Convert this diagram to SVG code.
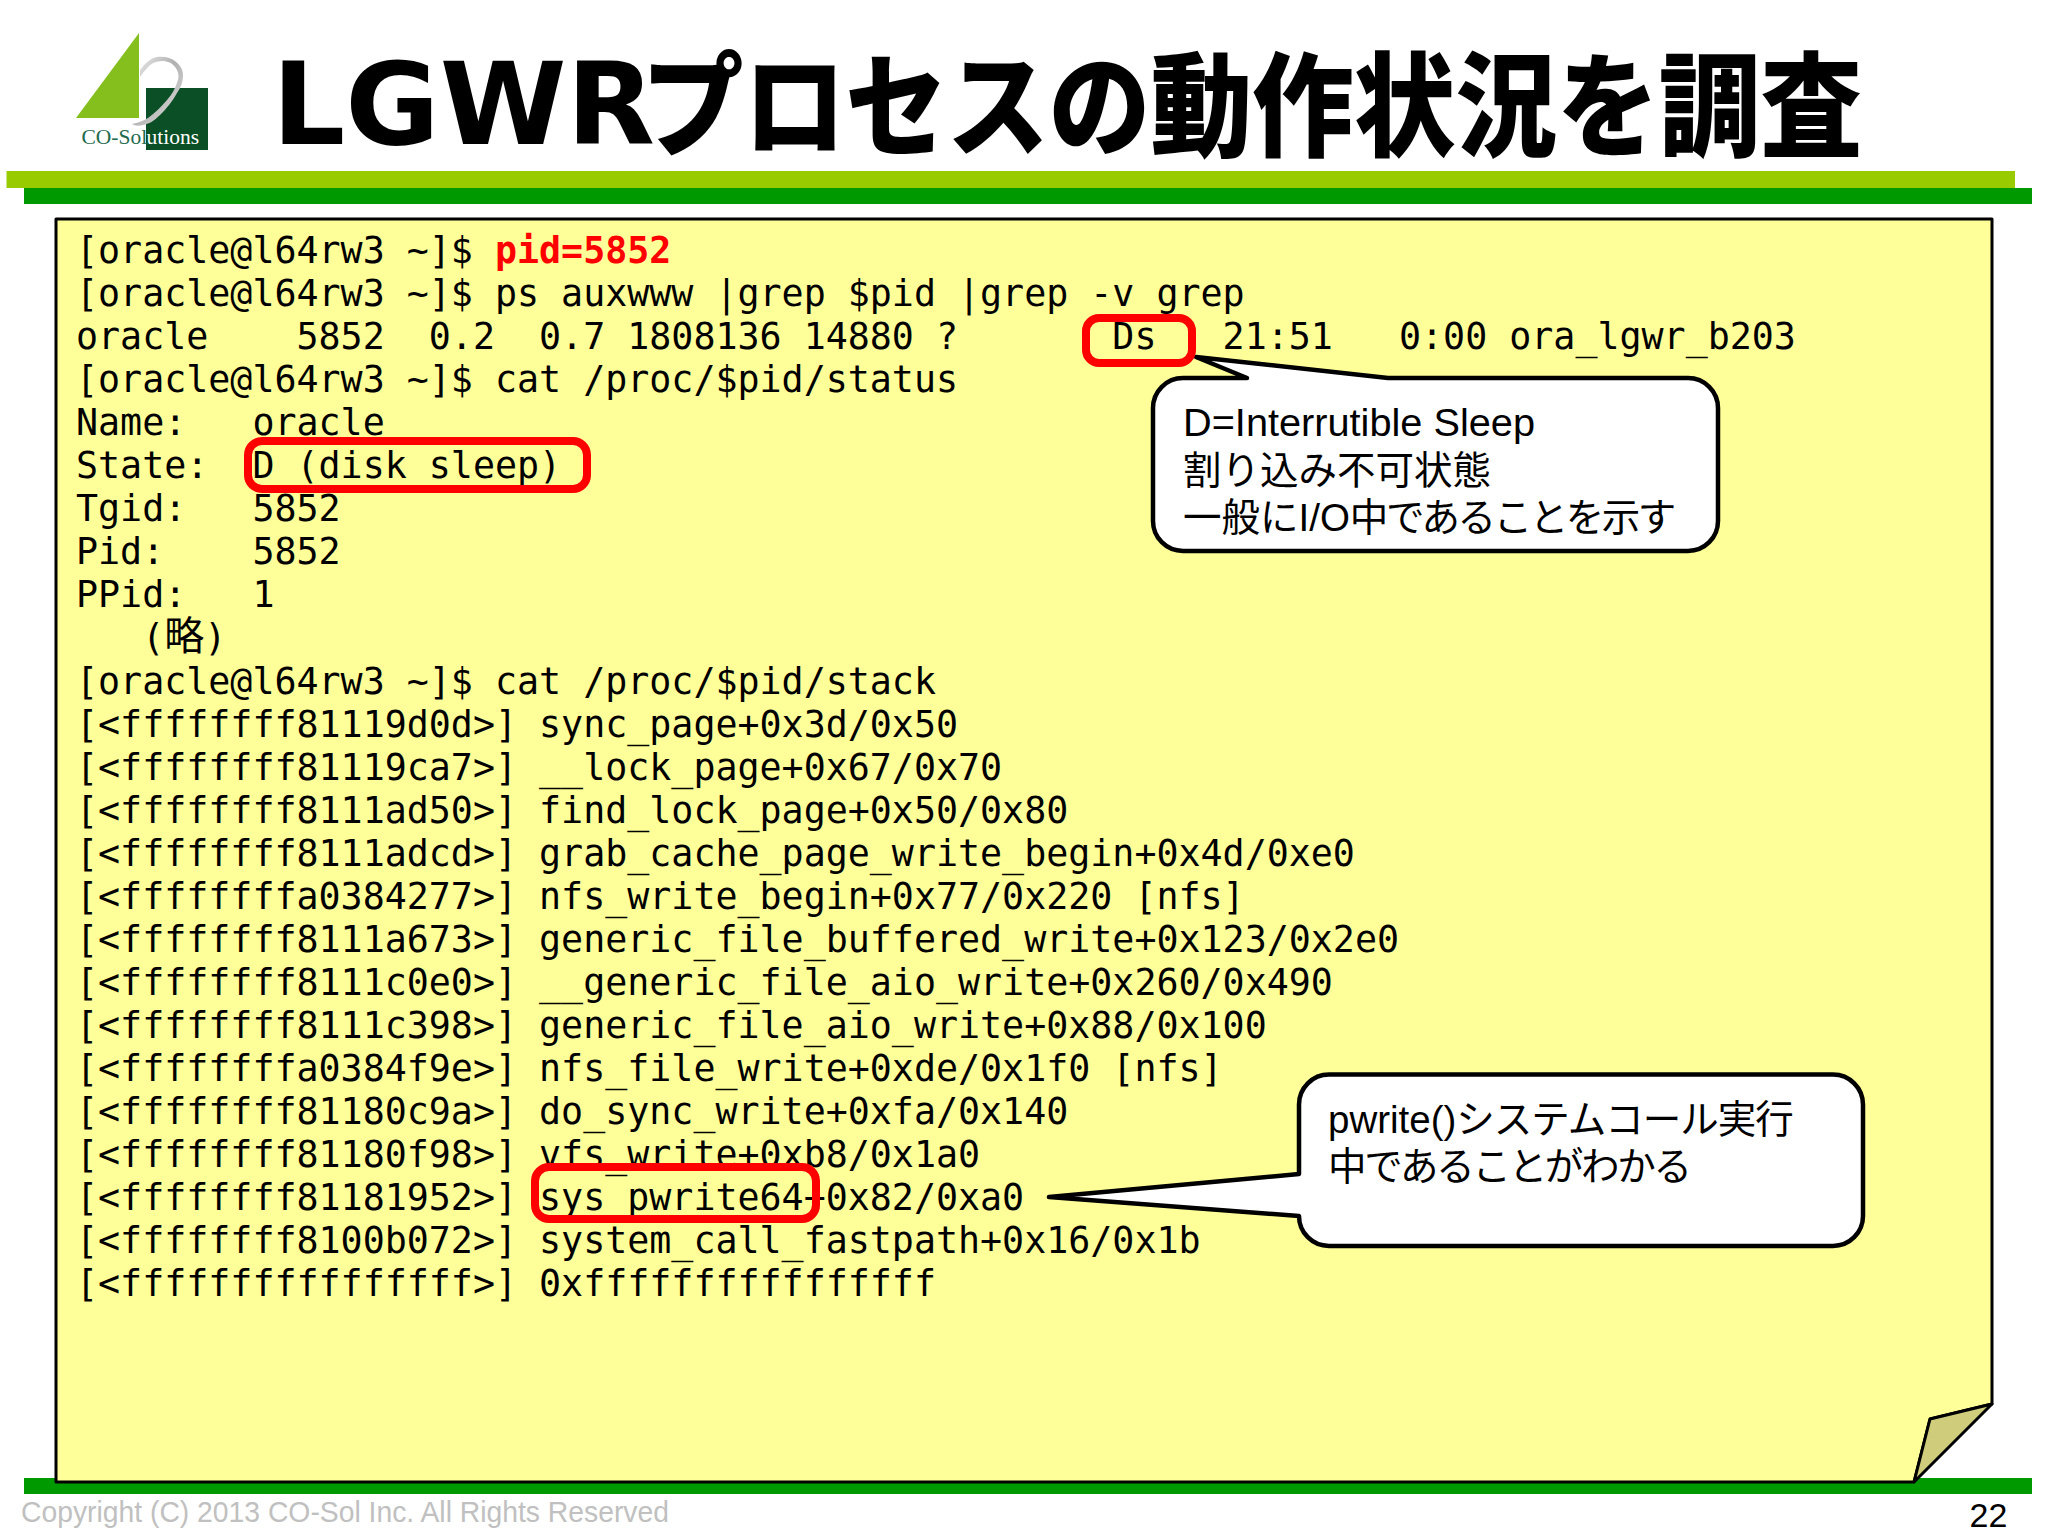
<svg xmlns="http://www.w3.org/2000/svg" width="2048" height="1536" viewBox="0 0 2048 1536">
<style>
.t{font-family:"DejaVu Sans Mono","Noto Sans CJK JP",monospace;font-size:36.64px;fill:#000;white-space:pre}
.c{font-family:"Liberation Sans","Noto Sans CJK JP",sans-serif;font-size:38.5px;fill:#000}
.r{fill:none;stroke:#f00;stroke-width:8}
.b{fill:#fff;stroke:#000;stroke-width:4.5;stroke-linejoin:round}
</style>
<defs>
<linearGradient id="ring" x1="0" y1="0" x2="1" y2="1"><stop offset="0" stop-color="#f4f4f4"/><stop offset=".45" stop-color="#b0b0b0"/><stop offset=".8" stop-color="#d0d0d0"/><stop offset="1" stop-color="#8a8a8a"/></linearGradient>
</defs>
<rect width="2048" height="1536" fill="#fff"/>
<g id="logo">
<path d="M139 33V118H76Z" fill="#84bf1e"/>
<rect x="146" y="88" width="62" height="62" fill="#0a4f25"/>
<path d="M140 70C146 62 151 58 157 57C165 56 171 58 175 61C181 66 183 70 183 75C183 82 181 87 177 93C172 102 167 108 160 115C154 121 149 124 143 125C139 126 135 126 132 124C138 123 143 121 148 118C155 113 161 107 167 100C172 94 175 89 177 83C179 78 179 74 177 70C175 66 172 63 168 62C163 60 158 61 153 63C148 66 144 71 140 77Z" fill="url(#ring)"/>
<text x="81.5" y="144" font-family="'Liberation Serif',serif" font-size="21.5" fill="#1f6b4e">CO-Sol</text>
<text x="146.5" y="144" font-family="'Liberation Serif',serif" font-size="21.5" fill="#fff">utions</text>
</g>
<g id="title">
<text x="272" y="144" font-family="'DejaVu Sans',sans-serif" font-weight="700" font-size="114.5" textLength="383" lengthAdjust="spacingAndGlyphs" fill="#000">LGWR</text>
<text transform="translate(642 147) scale(.9 1)" font-family="'Noto Sans CJK JP',sans-serif" font-weight="900" font-size="113" fill="#000">プロセスの動作状況を調査</text>
</g>
<g id="bars">
<rect x="6.5" y="171" width="2008.5" height="17" fill="#99cc00"/>
<rect x="24" y="188" width="2008" height="16" fill="#009900"/>
<rect x="24" y="1478" width="2008" height="16" fill="#009900"/>
</g>
<g id="note">
<path d="M56 219H1992V1404L1930 1419L1914 1482H56Z" fill="#ffff99" stroke="#000" stroke-width="3" stroke-linejoin="round"/>
<path d="M1992 1404L1930 1419L1914 1482Z" fill="#cfcc7c" stroke="#000" stroke-width="3" stroke-linejoin="round"/>
</g>
<g id="terminal">
<text class="t" x="76" y="263">[oracle@l64rw3 ~]$ <tspan fill="#f00" font-weight="700">pid=5852</tspan></text>
<text class="t" x="76" y="306.05">[oracle@l64rw3 ~]$ ps auxwww |grep $pid |grep -v grep</text>
<text class="t" x="76" y="349.1">oracle    5852  0.2  0.7 1808136 14880 ?       Ds   21:51   0:00 ora_lgwr_b203</text>
<text class="t" x="76" y="392.15">[oracle@l64rw3 ~]$ cat /proc/$pid/status</text>
<text class="t" x="76" y="435.2">Name:   oracle</text>
<text class="t" x="76" y="478.25">State:  D (disk sleep)</text>
<text class="t" x="76" y="521.3">Tgid:   5852</text>
<text class="t" x="76" y="564.35">Pid:    5852</text>
<text class="t" x="76" y="607.4">PPid:   1</text>
<text class="t" x="76" y="650.45">   (<tspan font-size="40">略</tspan>)</text>
<text class="t" x="76" y="693.5">[oracle@l64rw3 ~]$ cat /proc/$pid/stack</text>
<text class="t" x="76" y="736.55">[&lt;ffffffff81119d0d&gt;] sync_page+0x3d/0x50</text>
<text class="t" x="76" y="779.6">[&lt;ffffffff81119ca7&gt;] __lock_page+0x67/0x70</text>
<text class="t" x="76" y="822.65">[&lt;ffffffff8111ad50&gt;] find_lock_page+0x50/0x80</text>
<text class="t" x="76" y="865.7">[&lt;ffffffff8111adcd&gt;] grab_cache_page_write_begin+0x4d/0xe0</text>
<text class="t" x="76" y="908.75">[&lt;ffffffffa0384277&gt;] nfs_write_begin+0x77/0x220 [nfs]</text>
<text class="t" x="76" y="951.8">[&lt;ffffffff8111a673&gt;] generic_file_buffered_write+0x123/0x2e0</text>
<text class="t" x="76" y="994.85">[&lt;ffffffff8111c0e0&gt;] __generic_file_aio_write+0x260/0x490</text>
<text class="t" x="76" y="1037.9">[&lt;ffffffff8111c398&gt;] generic_file_aio_write+0x88/0x100</text>
<text class="t" x="76" y="1080.95">[&lt;ffffffffa0384f9e&gt;] nfs_file_write+0xde/0x1f0 [nfs]</text>
<text class="t" x="76" y="1124">[&lt;ffffffff81180c9a&gt;] do_sync_write+0xfa/0x140</text>
<text class="t" x="76" y="1167.05">[&lt;ffffffff81180f98&gt;] vfs_write+0xb8/0x1a0</text>
<text class="t" x="76" y="1210.1">[&lt;ffffffff81181952&gt;] sys_pwrite64+0x82/0xa0</text>
<text class="t" x="76" y="1253.15">[&lt;ffffffff8100b072&gt;] system_call_fastpath+0x16/0x1b</text>
<text class="t" x="76" y="1296.2">[&lt;ffffffffffffffff&gt;] 0xffffffffffffffff</text>
</g>
<g id="callout-ds">
<path class="b" d="M1183 378H1247L1196 357L1388 378H1688A30 30 0 0 1 1718 408V521A30 30 0 0 1 1688 551H1183A30 30 0 0 1 1153 521V408A30 30 0 0 1 1183 378Z"/>
<text class="c" x="1183" y="436" textLength="352" lengthAdjust="spacingAndGlyphs">D=Interrutible Sleep</text>
<text class="c" x="1183" y="484">割り込み不可状態</text>
<text class="c" x="1183" y="531">一般にI/O<tspan letter-spacing="-2.45">中であることを示す</tspan></text>
</g>
<g id="callout-pwrite">
<path class="b" d="M1329 1074.5H1833A30 30 0 0 1 1863 1104.5V1216A30 30 0 0 1 1833 1246H1329A30 30 0 0 1 1299 1216L1049 1197L1299 1174V1104.5A30 30 0 0 1 1329 1074.5Z"/>
<text class="c" x="1328" y="1133">pwrite()<tspan letter-spacing="-1">システムコール実行</tspan></text>
<text class="c" x="1328" y="1180" textLength="364">中であることがわかる</text>
</g>
<g id="highlights">
<rect class="r" x="1086" y="318" width="106" height="45" rx="13"/>
<rect class="r" x="248" y="441" width="339" height="48" rx="14"/>
<rect class="r" x="535" y="1167" width="281" height="52" rx="14"/>
</g>
<g id="footer">
<text x="21" y="1522" font-family="'Liberation Sans',sans-serif" font-size="30" fill="#c0c0c0" textLength="648" lengthAdjust="spacingAndGlyphs">Copyright (C) 2013 CO-Sol Inc. All Rights Reserved</text>
<text x="1969.5" y="1527" font-family="'Liberation Sans',sans-serif" font-size="34" fill="#000">22</text>
</g>
</svg>
